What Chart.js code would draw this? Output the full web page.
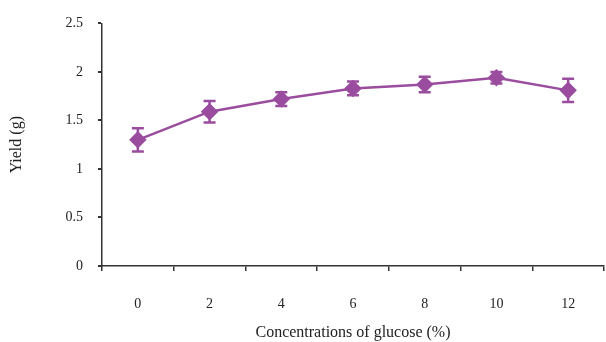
<!DOCTYPE html>
<html>
<head>
<meta charset="utf-8">
<script src="https://cdn.jsdelivr.net/npm/chart.js@4/dist/chart.umd.min.js"></script>
<style>
  html, body { margin: 0; padding: 0; background: #fff; }
  #wrap { width: 606px; height: 342px; }
</style>
</head>
<body>
<div id="wrap"><canvas id="yield_chart" width="606" height="342"></canvas></div>
<script>
// glucose concentration (%) and yield (g) with error
const concentrations = ['0', '2', '4', '6', '8', '10', '12']
const yieldMean = [1.30, 1.59, 1.72, 1.83, 1.87, 1.94, 1.81]
const yieldErr = [0.12, 0.11, 0.07, 0.07, 0.08, 0.06, 0.12]
const yTickLabels = ['0', '0.5', '1', '1.5', '2', '2.5']

const purple = '#9a4c9e'
const axisColor = '#333'
const serif = '"Liberation Serif", "Times New Roman", serif'

// draws the vertical error bars with caps
const errorBars = {
  id: 'errorBars',
  afterDatasetsDraw(chart) {
    const ctx = chart.ctx
    const y = chart.scales.y
    const meta = chart.getDatasetMeta(0)
    ctx.save()
    ctx.strokeStyle = purple
    ctx.lineWidth = 2.5
    meta.data.forEach((pt, i) => {
      const top = y.getPixelForValue(yieldMean[i] + yieldErr[i])
      const bot = y.getPixelForValue(yieldMean[i] - yieldErr[i])
      ctx.beginPath()
      ctx.moveTo(pt.x, top); ctx.lineTo(pt.x, bot)
      ctx.moveTo(pt.x - 6, top); ctx.lineTo(pt.x + 6, top)
      ctx.moveTo(pt.x - 6, bot); ctx.lineTo(pt.x + 6, bot)
      ctx.stroke()
    })
    ctx.restore()
  }
}

new Chart(document.getElementById('yield_chart'), {
  type: 'line',
  data: {
    labels: concentrations,
    datasets: [{
      data: yieldMean,
      borderColor: purple,
      backgroundColor: purple,
      borderWidth: 2.5,
      pointStyle: 'rectRot',
      pointRadius: 7,
      pointHoverRadius: 7,
      fill: false,
      tension: 0
    }]
  },
  options: {
    responsive: false,
    animation: false,
    layout: { autoPadding: false, padding: { top: 21, right: 2, left: 7, bottom: 0 } },
    plugins: { legend: { display: false }, tooltip: { enabled: false } },
    scales: {
      x: {
        offset: true,
        grid: { offset: true, drawOnChartArea: false, drawTicks: true, tickLength: 5, color: axisColor, lineWidth: 1.5 },
        border: { color: axisColor, width: 1.5 },
        ticks: { color: '#222', padding: 25, font: { family: serif, size: 14 } },
        title: { display: true, text: 'Concentrations of glucose (%)', color: '#222', padding: { top: 4, bottom: 0 }, font: { family: serif, size: 16 } },
        afterFit(scale) { scale.height = 76 }
      },
      y: {
        min: 0,
        max: 2.5,
        grid: { drawOnChartArea: false, drawTicks: true, tickLength: 4, color: axisColor, lineWidth: 2 },
        border: { color: axisColor, width: 1.5 },
        ticks: {
          stepSize: 0.5,
          color: '#222',
          padding: 15,
          font: { family: serif, size: 14 },
          callback: (v, i) => yTickLabels[i]
        },
        title: { display: true, text: 'Yield (g)', color: '#222', padding: { top: 0, bottom: 30 }, font: { family: serif, size: 16 } },
        afterFit(scale) { scale.width = 95 }
      }
    }
  },
  plugins: [errorBars]
})
</script>
</body>
</html>
